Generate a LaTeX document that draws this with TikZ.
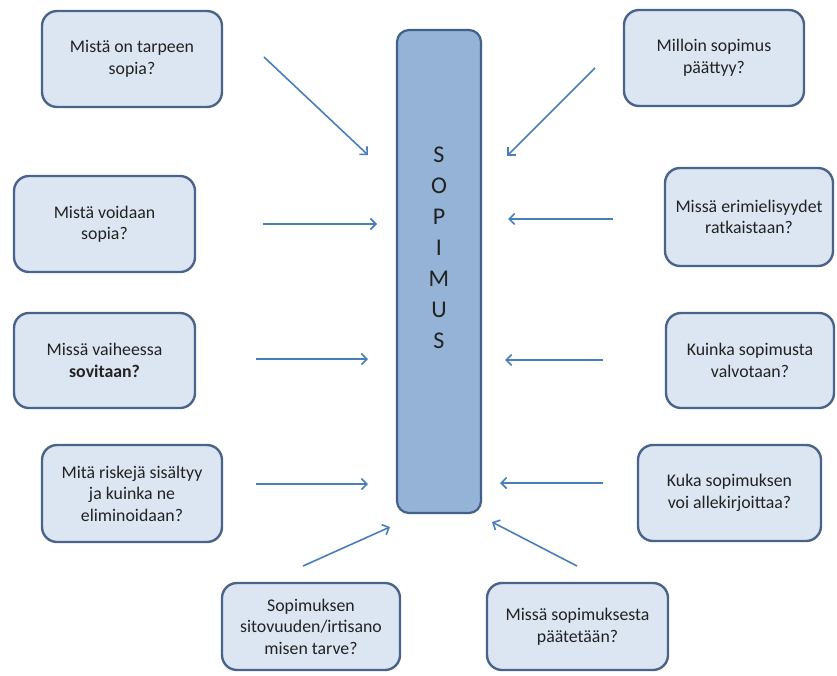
\documentclass[tikz,border=0pt]{standalone}
\usepackage{fontspec}
\setmainfont{Carlito}
\usetikzlibrary{arrows.meta}
\definecolor{boxfill}{HTML}{DCE6F2}
\definecolor{boxline}{HTML}{4A6489}
\definecolor{barfill}{HTML}{95B3D7}
\definecolor{barline}{HTML}{41618B}
\definecolor{arrowcol}{HTML}{4A7EBB}
\definecolor{txt}{HTML}{222222}
\begin{document}
\begin{tikzpicture}[x=1pt,y=-1pt,
  qbox/.style={draw=boxline, fill=boxfill, line width=2.4pt, rounded corners=15pt,
    align=center, text=txt, inner sep=2pt, font=\fontsize{17.8}{21.5}\selectfont},
  bar/.style={draw=barline, fill=barfill, line width=2.2pt, rounded corners=12pt},
  conn/.style={draw=arrowcol, line width=1.6pt,
    -{Straight Barb[length=5.5pt,width=11pt,line width=1.6pt]}}]
\useasboundingbox (0,0) rectangle (837,675);
% central bar
\node[bar, minimum width=84pt, minimum height=483pt] (sopbar) at (439,271.5) {};
\node[align=center, text=txt, font=\fontsize{24}{31}\selectfont] (soptext) at (439,248)
  {S\\O\\P\\I\\M\\U\\S};
% question boxes
\node[qbox, minimum width=180pt, minimum height=96pt] (b1) at (132,59) {Mistä on tarpeen\\sopia?};
\node[qbox, minimum width=181pt, minimum height=96pt] (b2) at (104.5,224) {Mistä voidaan\\sopia?};
\node[qbox, minimum width=181pt, minimum height=95pt] (b3) at (104.5,360.5) {Missä vaiheessa\\\textbf{sovitaan?}};
\node[qbox, minimum width=180pt, minimum height=97pt] (b4) at (132,493.5) {Mitä riskejä sisältyy\\ja kuinka ne\\eliminoidaan?};
\node[qbox, minimum width=180pt, minimum height=96pt] (r1) at (714,58) {Milloin sopimus\\päättyy?};
\node[qbox, minimum width=168pt, minimum height=98pt] (r2) at (749,217) {Missä erimielisyydet\\ratkaistaan?};
\node[qbox, minimum width=168pt, minimum height=95pt] (r3) at (750,360.5) {Kuinka sopimusta\\valvotaan?};
\node[qbox, minimum width=183pt, minimum height=96pt] (r4) at (729.5,493) {Kuka sopimuksen\\voi allekirjoittaa?};
\node[qbox, minimum width=178pt, minimum height=87pt] (d1) at (311,626.5) {Sopimuksen\\sitovuuden/irtisano\\misen tarve?};
\node[qbox, minimum width=181pt, minimum height=87pt] (d2) at (577.5,626.5) {Missä sopimuksesta\\päätetään?};
% arrow end points
\coordinate (a1s) at (264,57);   \coordinate (a1e) at (368,155);
\coordinate (a2s) at (263,224);  \coordinate (a2e) at (377,224);
\coordinate (a3s) at (256,359);  \coordinate (a3e) at (368,359);
\coordinate (a4s) at (256,484);  \coordinate (a4e) at (368,484);
\coordinate (c1s) at (595,68);   \coordinate (c1e) at (507,156);
\coordinate (c2s) at (613,219);  \coordinate (c2e) at (508,219);
\coordinate (c3s) at (603,360);  \coordinate (c3e) at (505,360);
\coordinate (c4s) at (603,483);  \coordinate (c4e) at (500,483);
\coordinate (e1s) at (303,566);  \coordinate (e1e) at (390,527);
\coordinate (e2s) at (577,566);  \coordinate (e2e) at (492,522);
\foreach \p in {a1,a2,a3,a4,c1,c2,c3,c4,e1,e2}
  \draw[conn] (\p s) -- (\p e);
\end{tikzpicture}
\end{document}
